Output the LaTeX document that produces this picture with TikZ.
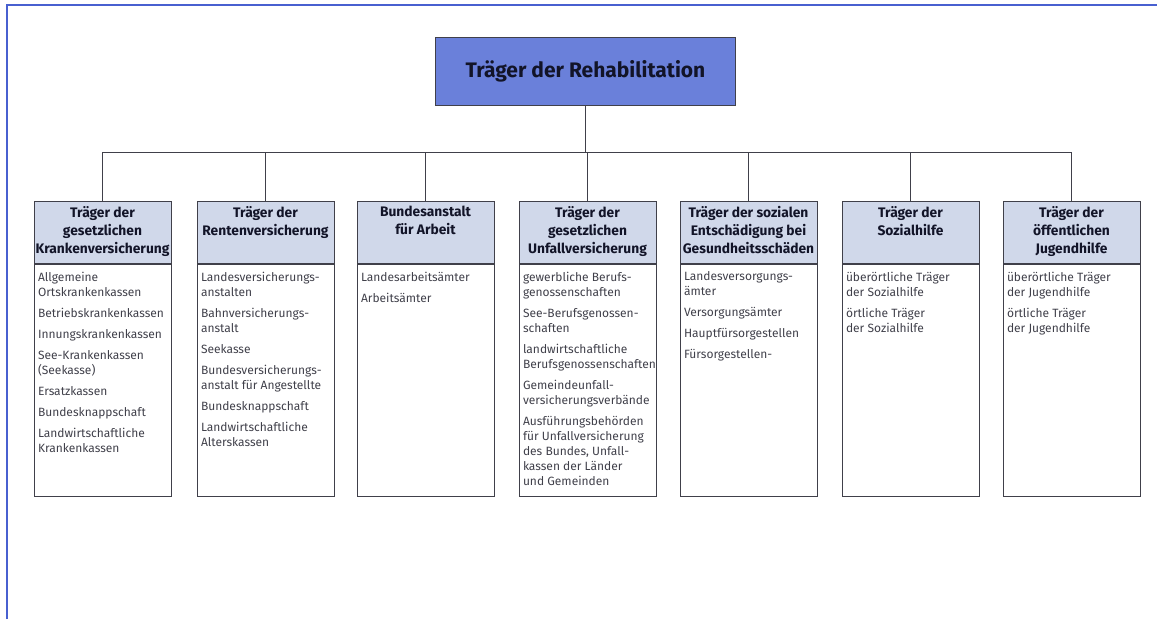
\documentclass[tikz,border=0pt]{standalone}
\usepackage{fontspec}
\setmainfont{Fira Sans}
\usetikzlibrary{positioning}

\definecolor{rehablue}{RGB}{106,128,218}
\definecolor{headblue}{RGB}{208,216,234}
\definecolor{frameblue}{RGB}{72,96,208}
\definecolor{inkdark}{RGB}{18,20,40}
\definecolor{inkgray}{RGB}{64,64,74}

\tikzset{
    topbox/.style={draw=inkgray, fill=rehablue, minimum width=300pt,
        minimum height=68pt, text=inkdark,
        font=\fontsize{21}{24}\selectfont\bfseries},
    headbox/.style={draw=inkgray, fill=headblue, minimum width=137pt,
        minimum height=62pt, anchor=north},
    headtext/.style={inner sep=0pt, align=center, text=inkdark,
        font=\fontsize{13.8}{18}\selectfont\bfseries},
    bodybox/.style={draw=inkgray, minimum width=137pt, minimum height=232pt},
    bodytext/.style={inner sep=0pt, align=left, text=inkgray,
        font=\fontsize{12}{15}\selectfont},
    link/.style={draw=inkgray, line width=0.8pt}
}

\begin{document}
\begin{tikzpicture}[x=1pt,y=-1pt,line width=0.8pt]

% Page frame.
\useasboundingbox (0,0) rectangle (1159,619);
\draw[frameblue, line width=1.5pt] (7,619) -- (7,5) -- (1157,5);

% Main node.
\node[topbox] (top) at (585.5,71) {Träger der Rehabilitation};

% Loop for each column: header box, its title, body box and its entries.
\foreach \i/\x/\head/\body in {
    1/102.5/{Träger der\\gesetzlichen\\Krankenversicherung}/{Allgemeine\\Ortskrankenkassen\\[6pt]Betriebskrankenkassen\\[6pt]Innungskrankenkassen\\[6pt]See-Krankenkassen\\(Seekasse)\\[6pt]Ersatzkassen\\[6pt]Bundesknappschaft\\[6pt]Landwirtschaftliche\\Krankenkassen},
    2/265.5/{Träger der\\Rentenversicherung}/{Landesversicherungs-\\anstalten\\[6pt]Bahnversicherungs-\\anstalt\\[6pt]Seekasse\\[6pt]Bundesversicherungs-\\anstalt für Angestellte\\[6pt]Bundesknappschaft\\[6pt]Landwirtschaftliche\\Alterskassen},
    3/425.5/{Bundesanstalt\\für Arbeit}/{Landesarbeitsämter\\[6pt]Arbeitsämter},
    4/587.5/{Träger der\\gesetzlichen\\Unfallversicherung}/{gewerbliche Berufs-\\genossenschaften\\[6pt]See-Berufsgenossen-\\schaften\\[6pt]landwirtschaftliche\\Berufsgenossenschaften\\[6pt]Gemeindeunfall-\\versicherungsverbände\\[6pt]Ausführungsbehörden\\für Unfallversicherung\\des Bundes, Unfall-\\kassen der Länder\\und Gemeinden},
    5/748.5/{Träger der sozialen\\Entschädigung bei\\Gesundheitsschäden}/{Landesversorgungs-\\ämter\\[6pt]Versorgungsämter\\[6pt]Hauptfürsorgestellen\\[6pt]Fürsorgestellen-},
    6/910.5/{Träger der\\Sozialhilfe}/{überörtliche Träger\\der Sozialhilfe\\[6pt]örtliche Träger\\der Sozialhilfe},
    7/1071.5/{Träger der\\öffentlichen\\Jugendhilfe}/{überörtliche Träger\\der Jugendhilfe\\[6pt]örtliche Träger\\der Jugendhilfe}} {

    % Header box and title.
    \node[headbox] (h\i) at (\x,201) {};
    \node[headtext, below=5pt of h\i.north] (t\i) {\head};

    % Body box and entries.
    \node[bodybox, below=0pt of h\i] (b\i) {};
    \node[bodytext, below right=7.5pt and 4pt of b\i.north west] (e\i) {\body};
}

% Connectors from the main node down to each column.
\coordinate (bar) at (586,152);
\draw[link] (top.south) -- (top.south |- bar);
\draw[link] (h1.north |- bar) -- (h7.north |- bar);
\foreach \i in {1,...,7}
    \draw[link] (h\i.north) -- (h\i.north |- bar);

\end{tikzpicture}
\end{document}
